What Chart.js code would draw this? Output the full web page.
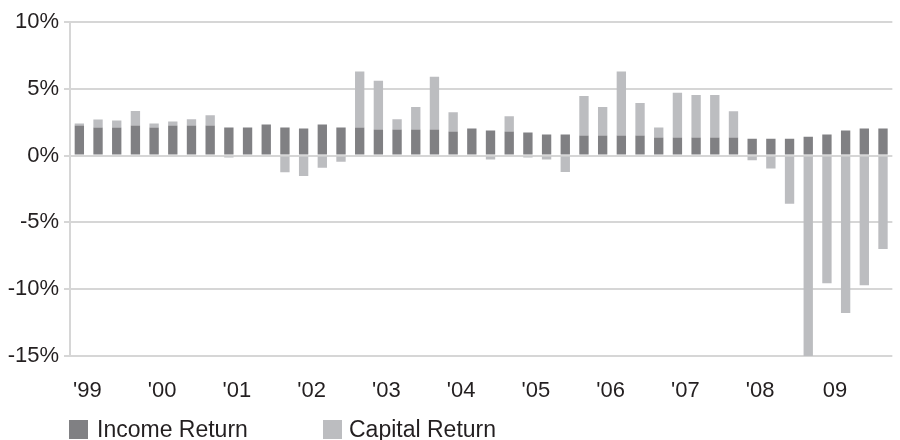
<!DOCTYPE html>
<html lang="en">
<head>
<meta charset="UTF-8">
<title>Income and Capital Return</title>
<script src="https://cdn.jsdelivr.net/npm/chart.js@4"></script>
<style>
  html, body { margin: 0; padding: 0; overflow: hidden; background: #fff; }
  #wrap { position: relative; width: 900px; height: 440px; overflow: hidden; }
  #returnChart { position: absolute; left: 0; top: 0; }
  .item { position: absolute; top: 416px; white-space: nowrap; line-height: 23px;
          font: 23px "Liberation Sans", Arial, sans-serif; color: #231f20; }
  .box { position: absolute; top: 4px; width: 19px; height: 19px; }
</style>
</head>
<body>
<div id="wrap">
  <canvas id="returnChart" width="905" height="440"></canvas>
  <div id="legend"></div>
</div>

<script>
    // quarterly returns (%), 1999 Q1 .. 2009 Q4
    const yearLabels = ["'99", "'00", "'01", "'02", "'03", "'04", "'05", "'06", "'07", "'08", "09"];
    const quarters = ['Q1', 'Q2', 'Q3', 'Q4'];

    const incomeReturn = [
        2.26, 2.10, 2.10, 2.26,   2.10, 2.26, 2.26, 2.26,
        2.10, 2.10, 2.33, 2.10,   2.03, 2.33, 2.10, 2.10,
        1.95, 1.95, 1.95, 1.95,   1.80, 2.03, 1.88, 1.80,
        1.73, 1.57, 1.57, 1.50,   1.50, 1.50, 1.50, 1.35,
        1.35, 1.35, 1.35, 1.35,   1.27, 1.27, 1.27, 1.42,
        1.57, 1.88, 2.03, 2.03
    ];
    const capitalReturn = [
        0.15, 0.60, 0.53, 1.07,   0.30, 0.30, 0.46, 0.76,
        -0.15, 0.00, 0.00, -1.24, -1.52, -0.91, -0.46, 4.19,
        3.66, 0.77, 1.68, 3.96,   1.45, 0.00, -0.30, 1.14,
        -0.15, -0.30, -1.22, 2.97, 2.13, 4.79, 2.43, 0.75,
        3.35, 3.19, 3.19, 1.97,   -0.35, -0.96, -3.60, -15.00,
        -9.55, -11.78, -9.70, -7.00
    ];

    const categories = [];
    yearLabels.forEach(y => quarters.forEach(q => categories.push(y + ' ' + q)));

    const darkGrey = '#808083';
    const lightGrey = '#bcbdc0';
    const gridGrey = '#d6d6d6';
    const textColor = '#231f20';
    const font = "'Liberation Sans', Arial, sans-serif";

    const ctx = document.getElementById('returnChart').getContext('2d');
    const chart = new Chart(ctx, {
        type: 'bar',
        data: {
            labels: categories,
            datasets: [
                {label: 'Income Return', data: incomeReturn, backgroundColor: darkGrey},
                {label: 'Capital Return', data: capitalReturn, backgroundColor: lightGrey}
            ]
        },
        options: {
            responsive: false,
            animation: false,
            layout: {padding: {top: 22, left: 0, right: 0, bottom: 0}},
            datasets: {bar: {categoryPercentage: 1, barPercentage: 0.5}},
            plugins: {legend: {display: false}, tooltip: {enabled: false}},
            scales: {
                x: {
                    stacked: true,
                    grid: {display: false, drawTicks: false},
                    border: {display: false},
                    afterFit: (s) => { s.height = 84; },
                    ticks: {
                        autoSkip: false,
                        maxRotation: 0,
                        padding: 22,
                        labelOffset: 8,
                        color: textColor,
                        font: {family: font, size: 22},
                        callback: (v, i) => (i % 4 === 0 ? yearLabels[i / 4] : '')
                    }
                },
                y: {
                    stacked: true,
                    min: -15,
                    max: 10,
                    z: 1,
                    afterFit: (s) => { s.width = 70; },
                    grid: {color: gridGrey, lineWidth: 2, tickLength: 6, tickColor: gridGrey},
                    border: {color: gridGrey, width: 2},
                    ticks: {
                        stepSize: 5,
                        padding: 5,
                        color: textColor,
                        font: {family: font, size: 22},
                        callback: v => v + '%'
                    }
                }
            }
        }
    });

    // legend under the chart, same colours as the datasets
    const legendPos = [{box: 69, text: 97}, {box: 323, text: 349}];
    const legend = document.getElementById('legend');
    chart.data.datasets.forEach((ds, i) => {
        const item = document.createElement('div');
        item.className = 'item';
        item.style.left = legendPos[i].box + 'px';
        item.innerHTML = '<span class="box" style="left:0;background:' + ds.backgroundColor + '"></span>' +
            '<span style="position:absolute;left:' + (legendPos[i].text - legendPos[i].box) + 'px">' + ds.label + '</span>';
        legend.appendChild(item);
    });
</script>
</body>
</html>
